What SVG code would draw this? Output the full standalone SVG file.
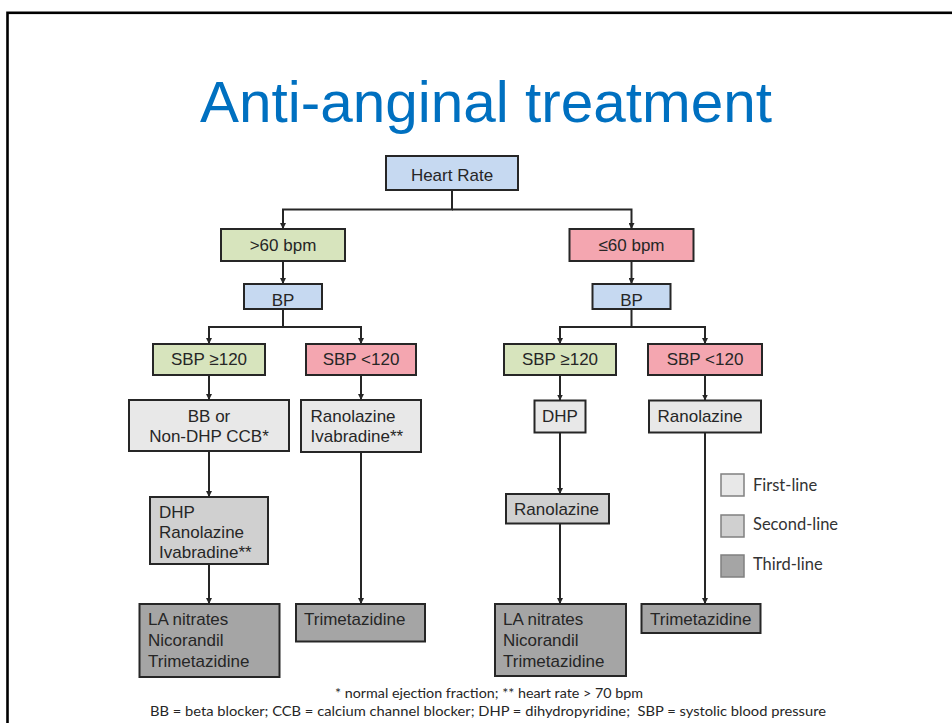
<svg xmlns="http://www.w3.org/2000/svg" width="952" height="723" viewBox="0 0 952 723">
<defs>
<marker id="arr" viewBox="0 0 6 6" refX="6" refY="3" markerWidth="6" markerHeight="6" markerUnits="userSpaceOnUse" orient="auto">
<path d="M0,0 L6,3 L0,6 z" fill="#262626"/>
</marker>
<style>
.box{stroke:#262626;stroke-width:2}
.blue{fill:#C6D9F1}
.green{fill:#D7E4BD}
.pink{fill:#F4A6B0}
.l1{fill:#E8E8E8}
.l2{fill:#D0D0D0}
.l3{fill:#A5A5A5}
.t{font-family:"Liberation Sans",Arial,sans-serif;font-size:17px;fill:#262626}
.c{text-anchor:middle}
.con{fill:none;stroke:#262626;stroke-width:2;marker-end:url(#arr)}
.leg{stroke:#808080;stroke-width:1.5}
.lt{font-family:Lato,"Open Sans",sans-serif;font-size:16.5px;fill:#333333}
.fn{font-family:Lato,"Open Sans",sans-serif;font-size:13.5px;fill:#262626;text-anchor:middle}
</style>
</defs>
<rect x="0" y="0" width="952" height="723" fill="#fff"/>
<rect x="7.5" y="12.8" width="960" height="730" fill="none" stroke="#000" stroke-width="2.6"/>
<text x="486" y="122" text-anchor="middle" font-family="Liberation Sans, Arial, sans-serif" font-size="57" fill="#0070C0" textLength="572" lengthAdjust="spacingAndGlyphs">Anti-anginal treatment</text>

<g id="connectors">
<path class="con" d="M452,190 V209.5 H283 V229"/>
<path class="con" d="M452,209.5 H631.5 V229"/>
<path class="con" d="M283,261 V284"/>
<path class="con" d="M283,309 V327 H209 V344"/>
<path class="con" d="M283,327 H361 V344"/>
<path class="con" d="M631.5,261 V284"/>
<path class="con" d="M631.5,309 V327 H560 V344"/>
<path class="con" d="M631.5,327 H705 V344"/>
<path class="con" d="M209,375 V400"/>
<path class="con" d="M361,375 V400"/>
<path class="con" d="M209,451 V497"/>
<path class="con" d="M209,564 V604"/>
<path class="con" d="M361,452 V604"/>
<path class="con" d="M560,375 V400.5"/>
<path class="con" d="M705,375 V400.5"/>
<path class="con" d="M560,432.5 V494"/>
<path class="con" d="M560,523.5 V604"/>
<path class="con" d="M705,432.5 V604"/>
</g>

<g id="heart-rate"><rect class="box blue" x="386" y="156" width="132" height="34"/><text class="t c" x="452" y="180.5" font-size="21">Heart Rate</text></g>
<g id="gt60"><rect class="box green" x="221" y="229" width="124" height="32"/><text class="t c" x="283" y="251">&gt;60 bpm</text></g>
<g id="le60"><rect class="box pink" x="569.5" y="229" width="124" height="32"/><text class="t c" x="631.5" y="251">≤60 bpm</text></g>
<g id="bp-left"><rect class="box blue" x="244" y="284" width="78" height="25"/><text class="t c" x="283" y="305.5">BP</text></g>
<g id="bp-right"><rect class="box blue" x="592.5" y="284" width="78" height="25"/><text class="t c" x="631.5" y="305.5">BP</text></g>
<g id="sbp-ge-left"><rect class="box green" x="153" y="344" width="112" height="31"/><text class="t c" x="209" y="365">SBP ≥120</text></g>
<g id="sbp-lt-left"><rect class="box pink" x="306" y="344" width="110" height="31"/><text class="t c" x="361" y="365">SBP &lt;120</text></g>
<g id="sbp-ge-right"><rect class="box green" x="504" y="344" width="112" height="31"/><text class="t c" x="560" y="365">SBP ≥120</text></g>
<g id="sbp-lt-right"><rect class="box pink" x="648" y="344" width="114" height="31"/><text class="t c" x="705" y="365">SBP &lt;120</text></g>

<g id="bb-or"><rect class="box l1" x="129" y="400" width="160" height="51"/><text class="t c" x="209" y="422">BB or</text><text class="t c" x="209" y="442">Non-DHP CCB*</text></g>
<g id="rano-ivab"><rect class="box l1" x="301" y="400" width="120" height="52"/><text class="t" x="310.5" y="422">Ranolazine</text><text class="t" x="310.5" y="442">Ivabradine**</text></g>
<g id="dhp-rano-ivab"><rect class="box l2" x="150" y="497" width="118" height="67"/><text class="t" x="159" y="518">DHP</text><text class="t" x="159" y="538">Ranolazine</text><text class="t" x="159" y="558">Ivabradine**</text></g>
<g id="la-left"><rect class="box l3" x="139.5" y="604" width="140" height="73"/><text class="t" x="148" y="625">LA nitrates</text><text class="t" x="148" y="646">Nicorandil</text><text class="t" x="148" y="667">Trimetazidine</text></g>
<g id="trim-left"><rect class="box l3" x="296" y="604" width="129" height="37.5"/><text class="t" x="304" y="625">Trimetazidine</text></g>

<g id="dhp"><rect class="box l1" x="534.5" y="400.5" width="51" height="32"/><text class="t c" x="560" y="422">DHP</text></g>
<g id="rano-right"><rect class="box l1" x="649" y="400.5" width="112" height="32"/><text class="t" x="657.5" y="422">Ranolazine</text></g>
<g id="rano-second"><rect class="box l2" x="506" y="494" width="103" height="29.5"/><text class="t" x="514" y="515">Ranolazine</text></g>
<g id="la-right"><rect class="box l3" x="495" y="604" width="131" height="72"/><text class="t" x="503" y="625">LA nitrates</text><text class="t" x="503" y="646">Nicorandil</text><text class="t" x="503" y="667">Trimetazidine</text></g>
<g id="trim-right"><rect class="box l3" x="641.5" y="604" width="119" height="29"/><text class="t" x="650" y="625">Trimetazidine</text></g>

<g id="legend">
<rect class="leg l1" x="721" y="474" width="23" height="22"/><text class="lt" x="753" y="491">First-line</text>
<rect class="leg l2" x="721" y="515" width="23" height="22"/><text class="lt" x="753" y="530">Second-line</text>
<rect class="leg l3" x="721" y="555" width="23" height="22"/><text class="lt" x="753" y="570">Third-line</text>
</g>

<g id="footnotes">
<text class="fn" x="489" y="698" textLength="308" lengthAdjust="spacingAndGlyphs">* normal ejection fraction; ** heart rate &gt; 70 bpm</text>
<text class="fn" x="488" y="716" textLength="676" lengthAdjust="spacingAndGlyphs" xml:space="preserve">BB = beta blocker; CCB = calcium channel blocker; DHP = dihydropyridine;  SBP = systolic blood pressure</text>
</g>
</svg>
